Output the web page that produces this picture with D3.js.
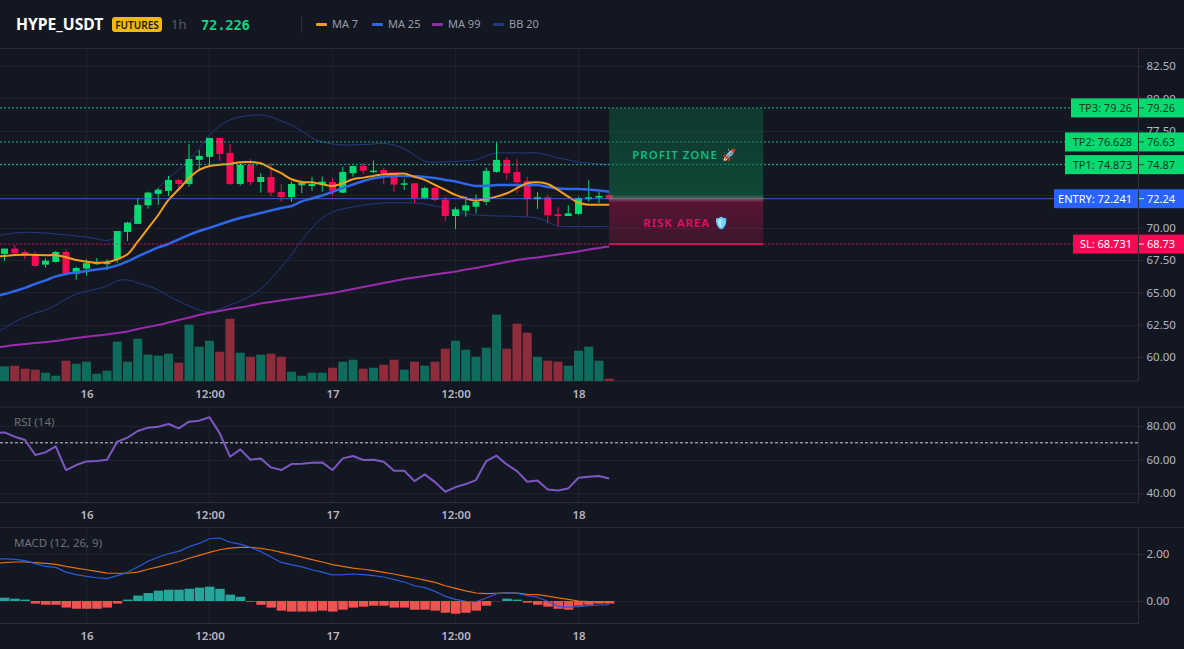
<!DOCTYPE html>
<html>
<head>
<meta charset="utf-8">
<title>HYPE_USDT 1h</title>
<script src="https://cdn.jsdelivr.net/npm/d3@7/dist/d3.min.js"></script>
<style>
  html, body { margin: 0; padding: 0; background: #131722; overflow: hidden; }
  svg { display: block; }
  text { font-family: "Noto Sans", sans-serif; }
</style>
</head>
<body>
<svg id="chart" width="1184" height="649"></svg>
<script>
// Hourly candles, first bar is 9 hours before midnight on the 16th
const opens = [67.80,67.97,68.38,68.12,67.91,67.14,67.35,68.12,66.44,66.83,67.25,67.25,67.56,69.67,70.29,71.73,72.61,72.84,73.69,73.38,75.24,75.47,76.94,75.78,73.38,74.85,73.53,73.92,72.76,72.37,73.28,73.22,73.38,73.53,72.71,74.21,74.77,74.33,74.46,74.28,73.36,73.43,72.30,73.07,72.17,70.90,71.31,71.62,71.99,74.31,75.24,74.31,73.61,72.20,72.35,71.04,70.90,71.06,72.20,72.32,72.53];
const highs = [68.10,68.38,68.66,68.28,68.14,67.63,68.20,68.33,66.98,67.56,67.66,67.56,69.74,70.46,72.27,72.78,73.05,74.00,73.77,76.47,76.01,76.94,76.94,76.47,75.06,75.29,74.21,74.98,73.36,73.56,73.63,73.94,73.94,73.82,74.72,74.77,74.98,75.18,74.64,74.28,73.77,73.43,73.17,73.12,72.40,71.58,72.40,72.58,74.64,76.57,75.44,75.31,73.94,72.74,72.53,71.58,71.73,72.40,73.69,72.78,72.70];
const lows = [67.60,67.45,67.89,67.56,66.98,66.91,67.29,66.42,65.98,66.29,67.12,66.73,67.29,68.97,70.29,71.47,71.76,72.45,72.92,73.17,74.41,74.80,75.18,73.30,73.25,73.30,72.71,72.45,72.01,72.01,72.66,72.84,72.78,72.45,72.66,73.94,74.15,74.21,73.36,72.78,72.92,71.93,72.20,72.04,70.52,69.88,70.85,71.11,71.76,74.25,73.69,72.66,70.90,71.45,70.39,70.13,70.90,71.00,72.01,71.89,72.10];
const closes = [67.95,68.38,68.02,67.87,67.04,67.45,68.12,66.44,66.88,67.25,67.29,67.29,69.74,70.39,71.76,72.71,72.94,73.69,73.38,75.31,75.55,76.94,75.70,73.38,74.85,73.53,73.92,72.71,72.37,73.38,73.48,73.38,73.56,72.86,74.31,74.77,74.41,74.41,74.21,73.33,73.43,72.30,73.07,72.14,70.90,71.42,71.73,71.99,74.39,75.24,74.21,73.51,72.20,72.35,70.96,70.90,71.11,72.30,72.35,72.45,72.226];
const volumes = [150,147,153,123,113,83,53,203,173,193,73,103,393,193,423,263,253,273,183,563,343,403,293,623,283,243,263,273,243,93,53,83,83,133,193,213,123,133,163,213,113,193,153,193,323,403,313,243,333,663,323,573,483,243,203,193,153,303,343,203,23];

const ma7 = [67.78,67.81,67.89,67.91,67.89,67.87,67.87,67.71,67.50,67.37,67.29,67.32,67.56,67.94,68.92,69.95,70.98,72.14,72.97,73.82,74.46,74.77,74.87,74.93,75.06,75.08,74.98,74.59,74.21,73.74,73.53,73.51,73.36,73.22,73.43,73.74,73.87,74.00,74.13,74.15,74.18,73.94,73.69,73.30,72.92,72.53,72.27,72.09,72.22,72.40,72.66,73.05,73.43,73.51,73.38,72.92,72.40,71.93,71.78,71.78,71.78];
const ma25 = [64.66,64.87,65.10,65.34,65.65,65.92,66.23,66.42,66.54,66.65,66.77,66.88,67.08,67.39,67.77,68.12,68.47,68.74,69.09,69.44,69.74,69.98,70.25,70.52,70.75,70.94,71.14,71.33,71.52,71.68,72.03,72.26,72.49,72.76,73.07,73.34,73.61,73.81,73.94,74.00,74.00,73.98,73.92,73.84,73.69,73.57,73.38,73.22,73.24,73.30,73.30,73.30,73.30,73.29,73.15,73.03,72.99,72.99,72.95,72.88,72.78];
const ma99 = [60.72,60.81,60.93,61.01,61.08,61.16,61.24,61.35,61.47,61.57,61.66,61.74,61.86,61.97,62.17,62.32,62.47,62.67,62.86,63.05,63.25,63.42,63.56,63.71,63.83,63.98,64.14,64.25,64.37,64.49,64.60,64.72,64.83,64.95,65.10,65.26,65.41,65.57,65.72,65.88,66.03,66.15,66.26,66.38,66.50,66.61,66.77,66.88,67.04,67.19,67.35,67.50,67.62,67.70,67.81,67.93,68.04,68.16,68.31,68.43,68.55];
const bbUpper = [69.35,69.47,69.59,69.64,69.63,69.59,69.51,69.44,69.36,69.28,69.13,69.01,69.28,70.13,71.21,72.14,73.07,73.84,74.46,75.24,76.16,77.17,77.87,78.33,78.56,78.68,78.72,78.56,78.25,77.94,77.48,76.94,76.63,76.47,76.40,76.40,76.43,76.47,76.51,76.40,76.09,75.62,75.12,75.08,75.08,75.12,75.16,75.24,75.55,75.78,75.78,75.78,75.78,75.78,75.62,75.39,75.24,75.08,75.00,74.93,74.85];
const bbLower = [61.80,62.24,62.71,63.09,63.40,63.63,64.02,64.49,64.87,65.10,65.26,65.49,65.88,65.96,65.72,65.49,65.18,64.72,64.33,63.94,63.63,63.48,63.71,64.02,64.33,64.72,65.26,66.03,66.96,67.89,69.05,69.98,70.75,71.21,71.45,71.60,71.76,71.83,71.91,71.93,71.93,71.91,71.83,71.68,71.52,71.29,71.06,70.98,70.94,70.90,70.90,70.87,70.83,70.75,70.44,70.13,70.08,70.08,70.08,70.08,70.08];

const rsi = [75.6,76.2,73.65,71.67,62.74,64.33,67.9,53.81,56.79,58.97,59.17,59.96,70.67,73.06,77.02,79.01,79.6,81.19,78.61,82.58,83.17,85.16,75.63,61.75,66.11,59.96,60.75,55.4,53.81,57.38,57.58,58.17,58.37,53.81,60.75,62.14,59.76,59.96,58.77,53.41,53.41,47.26,51.23,46.67,40.91,43.69,45.48,47.86,59.17,62.34,57.18,53.21,46.87,47.66,42.3,41.7,42.9,49.25,49.84,50.24,48.85];
const macdLine = [1.79,1.79,1.77,1.72,1.59,1.47,1.43,1.23,1.12,1.05,0.99,0.95,1.08,1.22,1.45,1.69,1.86,2.01,2.11,2.31,2.45,2.65,2.68,2.50,2.42,2.28,2.11,1.87,1.64,1.55,1.45,1.33,1.23,1.11,1.12,1.15,1.12,1.08,1.02,0.91,0.81,0.65,0.57,0.41,0.20,0.07,-0.01,-0.03,0.13,0.31,0.35,0.33,0.23,0.16,-0.01,-0.23,-0.26,-0.24,-0.20,-0.17,-0.16];
const macdSignal = [1.61,1.63,1.66,1.66,1.63,1.60,1.56,1.47,1.40,1.33,1.26,1.19,1.18,1.18,1.23,1.35,1.45,1.56,1.67,1.82,1.94,2.07,2.18,2.25,2.28,2.28,2.24,2.17,2.07,1.97,1.87,1.76,1.66,1.55,1.47,1.40,1.35,1.29,1.22,1.15,1.06,0.98,0.89,0.79,0.65,0.54,0.43,0.34,0.31,0.33,0.35,0.34,0.28,0.27,0.21,0.13,0.07,0,-0.03,-0.04,-0.04];
const macdHist = [0.15,0.14,0.10,0.06,-0.11,-0.16,-0.16,-0.28,-0.33,-0.33,-0.33,-0.28,-0.11,0.06,0.23,0.34,0.44,0.48,0.48,0.52,0.57,0.61,0.52,0.27,0.18,-0.03,-0.16,-0.28,-0.41,-0.45,-0.45,-0.45,-0.41,-0.45,-0.37,-0.28,-0.24,-0.20,-0.20,-0.28,-0.28,-0.37,-0.37,-0.41,-0.50,-0.54,-0.50,-0.41,-0.20,-0.01,0.10,0.06,-0.07,-0.16,-0.24,-0.33,-0.37,-0.20,-0.16,-0.11,-0.11];

const priceTicks = [60, 62.5, 65, 67.5, 70, 72.5, 75, 77.5, 80, 82.5];
const hiddenPriceTicks = [72.5, 75];
const rsiTicks = [80, 60, 40];
const macdTicks = [2, 0];
const rsiLevel = 70;

const lastPrice = 72.226;
const levels = [
  { name: "TP3", value: 79.26, axis: "79.26", label: "TP3: 79.26", fill: "#05d96f", ink: "#0b3b26", stroke: "#2fd6a4", dash: "2,2", tagLeft: 1071 },
  { name: "TP2", value: 76.628, axis: "76.63", label: "TP2: 76.628", fill: "#05d96f", ink: "#0b3b26", stroke: "#2fd6a4", dash: "2,2", tagLeft: 1065 },
  { name: "TP1", value: 74.873, axis: "74.87", label: "TP1: 74.873", fill: "#05d96f", ink: "#0b3b26", stroke: "#2fd6a4", dash: "2,2", tagLeft: 1065 },
  { name: "ENTRY", value: 72.241, axis: "72.24", label: "ENTRY: 72.241", fill: "#2962ff", ink: "#ffffff", stroke: "#3f6fe8", dash: null, tagLeft: 1054 },
  { name: "SL", value: 68.731, axis: "68.73", label: "SL: 68.731", fill: "#fa0a55", ink: "#ffffff", stroke: "#f0145f", dash: "2,2", tagLeft: 1073 }
];
const legendItems = [
  { label: "MA 7", color: "#f59e1b", x: 316 },
  { label: "MA 25", color: "#2f67ea", x: 372 },
  { label: "MA 99", color: "#8e2fa8", x: 432 },
  { label: "BB 20", color: "#25387e", x: 493 }
];

// Shared time axis: 10.25 px per hour, midnight of the 16th at x = 86.5
const HOUR = 3600e3;
const t0 = Date.UTC(2025, 8, 16);
const times = opens.map((_, i) => new Date(t0 + (i - 9) * HOUR));
const plotRight = 1139;
const x = d3.scaleUtc()
  .domain([new Date(t0 - 86.5 / 10.25 * HOUR), new Date(t0 + (plotRight - 86.5) / 10.25 * HOUR)])
  .range([0, plotRight]);
const timeTicks = [0, 12, 24, 36, 48].map(h => new Date(t0 + h * HOUR));
const timeFormat = d => d.getUTCHours() === 0 ? String(d.getUTCDate()) : "12:00";

const yPrice = d3.scaleLinear().domain([60, 82.5]).range([357, 66]);
const yVol = d3.scaleLinear().domain([0, 700]).range([381, 311]);
const yRsi = d3.scaleLinear().domain([40, 80]).range([493.3, 426]);
const yMacd = d3.scaleLinear().domain([0, 2]).range([601, 554]);

const UP = "#05d96f", DOWN = "#fa0a55";
const GRID = "#1e2230", FRAME = "#2b2f3b", AXIS_TEXT = "#b4b7c0";

const svg = d3.select("#chart");
const defs = svg.append("defs");
function gradient(id, stops) {
  const g = defs.append("linearGradient").attr("id", id).attr("x1", 0).attr("x2", 0).attr("y1", 0).attr("y2", 1);
  stops.forEach(s => g.append("stop").attr("offset", s[0]).attr("stop-color", s[1]).attr("stop-opacity", s[2]));
}
gradient("profitFill", [[0, "#00e676", 0.16], [0.45, "#00e676", 0.19], [1, "#00e676", 0.24]]);
gradient("riskFill", [[0, "#ff1060", 0.30], [1, "#ff1060", 0.17]]);
gradient("seamFill", [[0, "#a08a8f", 0], [0.5, "#a08a8f", 0.45], [1, "#a08a8f", 0]]);

svg.append("rect").attr("width", 1184).attr("height", 649).attr("fill", "#131722");

const plotClip = defs.append("clipPath").attr("id", "plotClip");
plotClip.append("rect").attr("x", 0).attr("y", 49).attr("width", plotRight).attr("height", 332);

// Panel frames and grid
const panels = [
  { top: 49, bottom: 381, y: yPrice, ticks: priceTicks.filter(t => !hiddenPriceTicks.includes(t)), grid: priceTicks, fmt: d3.format(".2f"), axisY: 395 },
  { top: 407.5, bottom: 502.5, y: yRsi, ticks: rsiTicks, grid: rsiTicks, fmt: d3.format(".2f"), axisY: 516 },
  { top: 528, bottom: 623.5, y: yMacd, ticks: macdTicks, grid: macdTicks, fmt: d3.format(".2f"), axisY: 637 }
];
panels.forEach(p => {
  const g = svg.append("g");
  g.selectAll("line.h").data(p.grid).join("line")
    .attr("x1", 0).attr("x2", plotRight)
    .attr("y1", d => Math.round(p.y(d)) + 0.5).attr("y2", d => Math.round(p.y(d)) + 0.5)
    .attr("stroke", GRID);
  g.selectAll("line.v").data(timeTicks).join("line")
    .attr("x1", d => x(d)).attr("x2", d => x(d))
    .attr("y1", p.top).attr("y2", p.bottom)
    .attr("stroke", GRID);
  g.append("line").attr("x1", 0).attr("x2", 1184).attr("y1", p.top - 0.5).attr("y2", p.top - 0.5).attr("stroke", "#262a36");
  g.append("line").attr("x1", 0).attr("x2", plotRight).attr("y1", p.bottom).attr("y2", p.bottom).attr("stroke", FRAME);
  g.append("line").attr("x1", plotRight - 0.5).attr("x2", plotRight - 0.5).attr("y1", p.top).attr("y2", p.bottom).attr("stroke", FRAME);

  // Price side axis
  const ax = svg.append("g").attr("transform", `translate(${plotRight - 0.5},0)`)
    .call(d3.axisRight(p.y).tickValues(p.ticks).tickFormat(p.fmt).tickSize(5).tickPadding(3));
  ax.select(".domain").remove();
  ax.selectAll(".tick line").attr("stroke", FRAME);
  ax.selectAll("text").attr("fill", AXIS_TEXT).attr("font-size", 11.5).attr("font-family", '"Noto Sans", sans-serif');

  // Time axis under the panel
  const tx = svg.append("g").attr("transform", `translate(0,${p.axisY - 8})`)
    .call(d3.axisBottom(x).tickValues(timeTicks).tickFormat(timeFormat).tickSize(0).tickPadding(3));
  tx.select(".domain").remove();
  tx.selectAll("text").attr("fill", AXIS_TEXT).attr("font-size", 11.5).attr("font-weight", 600).attr("font-family", '"Noto Sans", sans-serif');
});

const plot = svg.append("g").attr("clip-path", "url(#plotClip)");

// Volume columns
plot.append("g").selectAll("rect").data(volumes).join("rect")
  .attr("x", (d, i) => x(times[i]) - 4.5).attr("width", 9)
  .attr("y", d => yVol(d)).attr("height", d => yVol(0) - yVol(d))
  .attr("fill", (d, i) => closes[i] >= opens[i] ? "#0f6b5b" : "#8f2c3c");

const lineOf = (values, y, curve) => d3.line().x((d, i) => x(times[i])).y(d => y(d)).curve(curve || d3.curveLinear)(values);
function addLine(parent, values, y, color, width, curve) {
  parent.append("path").attr("d", lineOf(values, y, curve)).attr("fill", "none")
    .attr("stroke", color).attr("stroke-width", width).attr("stroke-linejoin", "round");
}

// Bollinger band edges sit below the candles
addLine(plot, bbUpper, yPrice, "#25387e", 1, d3.curveCatmullRom);
addLine(plot, bbLower, yPrice, "#25387e", 1, d3.curveCatmullRom);

// Trade levels
const levelLines = svg.append("g");
levelLines.selectAll("line").data(levels).join("line")
  .attr("x1", 0).attr("y1", d => yPrice(d.value)).attr("y2", d => yPrice(d.value))
  .attr("x2", d => d.tagLeft)
  .attr("stroke", d => d.stroke).attr("stroke-dasharray", d => d.dash).attr("opacity", 0.8);

// Candles
const candles = plot.append("g").selectAll("g").data(opens).join("g");
candles.append("line")
  .attr("x1", (d, i) => x(times[i])).attr("x2", (d, i) => x(times[i]))
  .attr("y1", (d, i) => yPrice(highs[i])).attr("y2", (d, i) => yPrice(lows[i]))
  .attr("stroke", (d, i) => closes[i] >= opens[i] ? UP : DOWN);
candles.append("rect")
  .attr("x", (d, i) => x(times[i]) - 3.5).attr("width", 7)
  .attr("y", (d, i) => yPrice(Math.max(opens[i], closes[i])))
  .attr("height", (d, i) => Math.max(1.5, Math.abs(yPrice(opens[i]) - yPrice(closes[i]))))
  .attr("fill", (d, i) => closes[i] >= opens[i] ? UP : DOWN);

// Moving averages
addLine(plot, ma99, yPrice, "#9c2bb0", 2, d3.curveCatmullRom);
addLine(plot, ma25, yPrice, "#2f67ea", 2.5, d3.curveCatmullRom);
addLine(plot, ma7, yPrice, "#f59e1b", 2, d3.curveCatmullRom);

// Profit and risk zones, stretching from the latest bar
const zoneLeft = x(times[times.length - 1]);
const zoneWidth = 154;
const tp3 = levels[0].value, entry = levels[3].value, sl = levels[4].value;
svg.append("rect").attr("x", zoneLeft).attr("width", zoneWidth)
  .attr("y", yPrice(tp3)).attr("height", yPrice(entry) - yPrice(tp3)).attr("fill", "#131722").attr("opacity", 0.35);
svg.append("rect").attr("x", zoneLeft).attr("width", zoneWidth)
  .attr("y", yPrice(tp3)).attr("height", yPrice(entry) - yPrice(tp3)).attr("fill", "url(#profitFill)");
svg.append("rect").attr("x", zoneLeft).attr("width", zoneWidth)
  .attr("y", yPrice(entry)).attr("height", yPrice(sl) - yPrice(entry)).attr("fill", "url(#riskFill)");
svg.append("rect").attr("x", zoneLeft).attr("width", zoneWidth)
  .attr("y", yPrice(entry) - 4).attr("height", 8).attr("fill", "url(#seamFill)");
svg.append("line").attr("x1", zoneLeft).attr("x2", zoneLeft + zoneWidth)
  .attr("y1", yPrice(sl)).attr("y2", yPrice(sl)).attr("stroke", "#f0145f").attr("stroke-width", 1.5);
svg.append("text").attr("x", zoneLeft + 23).attr("y", 159)
  .attr("fill", "#10b981").attr("font-size", 11.5).attr("font-weight", 600).attr("letter-spacing", 1)
  .text("PROFIT ZONE 🚀");
svg.append("text").attr("x", zoneLeft + 34).attr("y", 227)
  .attr("fill", "#e0115f").attr("font-size", 11.5).attr("font-weight", 600).attr("letter-spacing", 1)
  .text("RISK AREA");
svg.append("text").attr("x", zoneLeft + 105).attr("y", 227)
  .attr("font-size", 11.5).style("filter", "sepia(1) saturate(6) hue-rotate(170deg)")
  .text("🛡️");

// Level tags on the price axis
const tags = svg.append("g").selectAll("g").data(levels).join("g")
  .attr("transform", d => `translate(0,${yPrice(d.value)})`);
tags.append("rect").attr("x", d => d.tagLeft)
  .attr("y", -9.5).attr("height", 19).attr("width", d => 1138 - d.tagLeft)
  .attr("fill", d => d.fill);
tags.append("rect").attr("x", 1139).attr("y", -9.5).attr("width", 45).attr("height", 19).attr("fill", d => d.fill);
tags.append("line").attr("x1", 1139).attr("x2", 1144).attr("stroke", d => d.ink).attr("opacity", 0.8);
tags.append("text").attr("x", 1132).attr("y", 4).attr("text-anchor", "end").attr("font-size", 11)
  .attr("fill", d => d.ink).text(d => d.label);
tags.append("text").attr("x", 1147).attr("y", 4).attr("font-size", 11)
  .attr("fill", d => d.ink).text(d => d.axis);

// RSI
const rsiG = svg.append("g");
rsiG.append("line").attr("x1", 0).attr("x2", plotRight).attr("y1", yRsi(rsiLevel)).attr("y2", yRsi(rsiLevel))
  .attr("stroke", "#c9ccd3").attr("stroke-dasharray", "3,2");
addLine(rsiG, rsi, yRsi, "#7e57c2", 2);
rsiG.append("text").attr("x", 14).attr("y", 425.5).attr("fill", "#6c707a").attr("font-size", 11.5).text("RSI (14)");

// MACD
const macdG = svg.append("g");
macdG.selectAll("rect").data(macdHist).join("rect")
  .attr("x", (d, i) => x(times[i]) - 4.5).attr("width", 9.5)
  .attr("y", d => yMacd(Math.max(d, 0))).attr("height", d => Math.abs(yMacd(d) - yMacd(0)))
  .attr("fill", d => d >= 0 ? "#26a69a" : "#ef5350");
addLine(macdG, macdSignal, yMacd, "#e8700f", 1.2);
addLine(macdG, macdLine, yMacd, "#2a5bdc", 1.2);
macdG.append("text").attr("x", 14).attr("y", 546.5).attr("fill", "#6c707a").attr("font-size", 11.5).text("MACD (12, 26, 9)");

// Header strip
const head = svg.append("g");
head.append("rect").attr("width", 1184).attr("height", 48).attr("fill", "#131722");
head.append("text").attr("x", 16).attr("y", 30).attr("fill", "#ffffff").attr("font-size", 15.7).attr("font-weight", 700).text("HYPE_USDT");
head.append("rect").attr("x", 112).attr("y", 17).attr("width", 50).attr("height", 15).attr("rx", 3).attr("fill", "#f0b90b");
head.append("text").attr("x", 137).attr("y", 28.5).attr("text-anchor", "middle").attr("fill", "#1a1a1a").attr("font-size", 10).attr("font-weight", 600).text("FUTURES");
head.append("text").attr("x", 171).attr("y", 29).attr("fill", "#555b67").attr("font-size", 13).text("1h");
head.append("text").attr("x", 201).attr("y", 29.5).attr("fill", "#12d47f").attr("font-size", 14).attr("font-weight", 700)
  .style("font-family", '"DejaVu Sans Mono", monospace').attr("textLength", 49).text(lastPrice.toFixed(3));
head.append("line").attr("x1", 301.5).attr("x2", 301.5).attr("y1", 16).attr("y2", 33).attr("stroke", "#2b2f3b");
const legend = head.selectAll("g.legend").data(legendItems).join("g").attr("class", "legend");
legend.append("rect").attr("x", d => d.x).attr("y", 23).attr("width", 11).attr("height", 3).attr("rx", 1).attr("fill", d => d.color);
legend.append("text").attr("x", d => d.x + 16).attr("y", 28).attr("fill", "#989da7").attr("font-size", 11).text(d => d.label);
</script>
</body>
</html>
